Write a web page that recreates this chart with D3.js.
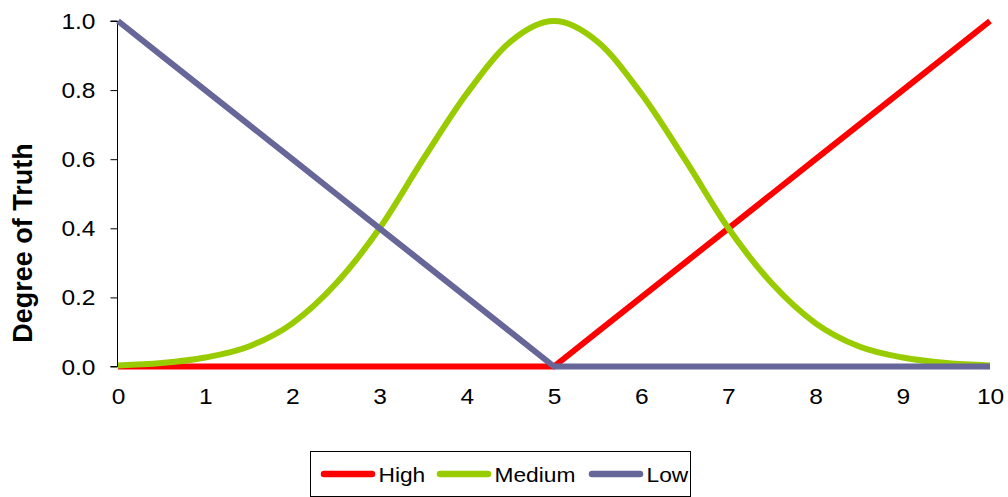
<!DOCTYPE html>
<html><head><meta charset="utf-8">
<script src="https://cdn.jsdelivr.net/npm/d3@7"></script>
<style>body{margin:0;background:#fff}svg{display:block}text{font-family:"Liberation Sans",Arial,sans-serif}</style>
</head><body>
<svg id="c" width="1008" height="497"></svg>
<script>
const xValues = [0,0.5,1,1.5,2,2.5,3,3.5,4,4.5,5,5.5,6,6.5,7,7.5,8,8.5,9,9.5,10];
const highValues = [0,0,0,0,0,0,0,0,0,0,0,0.1,0.2,0.3,0.4,0.5,0.6,0.7,0.8,0.9,1.0];
const mediumValues = [0.003,0.01,0.026,0.058,0.125,0.24,0.4,0.6,0.79,0.94,1.0,0.94,0.79,0.6,0.4,0.24,0.125,0.058,0.026,0.01,0.003];
const lowValues = [1.0,0.9,0.8,0.7,0.6,0.5,0.4,0.3,0.2,0.1,0,0,0,0,0,0,0,0,0,0,0];
const seriesNames = ["High","Medium","Low"];
const seriesColors = ["#FF0000","#99CC00","#666699"];
const xTicks = [0,1,2,3,4,5,6,7,8,9,10];
const yTicks = [0,0.2,0.4,0.6,0.8,1.0];
const yTitle = "Degree of Truth";

const svg = d3.select("#c");
const x = d3.scaleLinear().domain([0,10]).range([118,990]);
const y = d3.scaleLinear().domain([0,1]).range([366.5,21]);
const SX = 1.14;

// y axis
const ya = svg.append("g").attr("transform","translate(117.5,0)")
  .call(d3.axisLeft(y).tickValues(yTicks).tickFormat(d3.format(".1f")).tickSize(7));
ya.select(".domain").attr("stroke","#000").attr("d",`M-7,${y(1)}H0V${y(0)}H-7`);
ya.selectAll(".tick line").attr("stroke","#000");
ya.selectAll(".tick text").attr("x",0).attr("dy",null).attr("y",0)
  .attr("transform",`translate(-22,7.5) scale(${SX},1)`)
  .attr("text-anchor","end")
  .attr("font-size",21.5).attr("fill","#000").attr("font-family","Liberation Sans, Arial, sans-serif");

// x labels
const xa = svg.append("g").attr("transform",`translate(0,${y(0)})`)
  .call(d3.axisBottom(x).tickValues(xTicks).tickSize(0));
xa.select(".domain").remove();
xa.selectAll(".tick text").attr("x",0).attr("dy",null).attr("y",0)
  .attr("transform",`translate(0,37) scale(${SX},1)`)
  .attr("text-anchor","middle")
  .attr("font-size",21.5).attr("fill","#000").attr("font-family","Liberation Sans, Arial, sans-serif");

// y title
svg.append("text").attr("transform",`translate(31.5,${243}) rotate(-90)`)
  .attr("text-anchor","middle").attr("font-size",27).attr("font-weight","bold").text(yTitle);

const data = [highValues, mediumValues, lowValues];
data.forEach((vals,k)=>{
  const gen = d3.line().x((d,i)=>x(xValues[i])).y(d=>y(d))
    .curve(k===1 ? d3.curveMonotoneX : d3.curveLinear);
  svg.append("path").attr("d",gen(vals)).attr("fill","none")
    .attr("stroke",seriesColors[k]).attr("stroke-width",6).attr("stroke-linejoin","round");
});

// legend
const lg = svg.append("g");
lg.append("rect").attr("x",310.5).attr("y",451.5).attr("width",380).attr("height",45)
  .attr("fill","#fff").attr("stroke","#000").attr("stroke-width",1);
const legX = [321,437,589];
seriesNames.forEach((n,k)=>{
  lg.append("line").attr("x1",legX[k]+3).attr("x2",legX[k]+51).attr("y1",474).attr("y2",474)
    .attr("stroke",seriesColors[k]).attr("stroke-width",6.5).attr("stroke-linecap","round");
  lg.append("text").attr("transform",`translate(${legX[k]+57.5},482) scale(1.11,1)`)
    .attr("font-size",20.5).attr("fill","#000").text(n);
});
</script>
</body></html>
